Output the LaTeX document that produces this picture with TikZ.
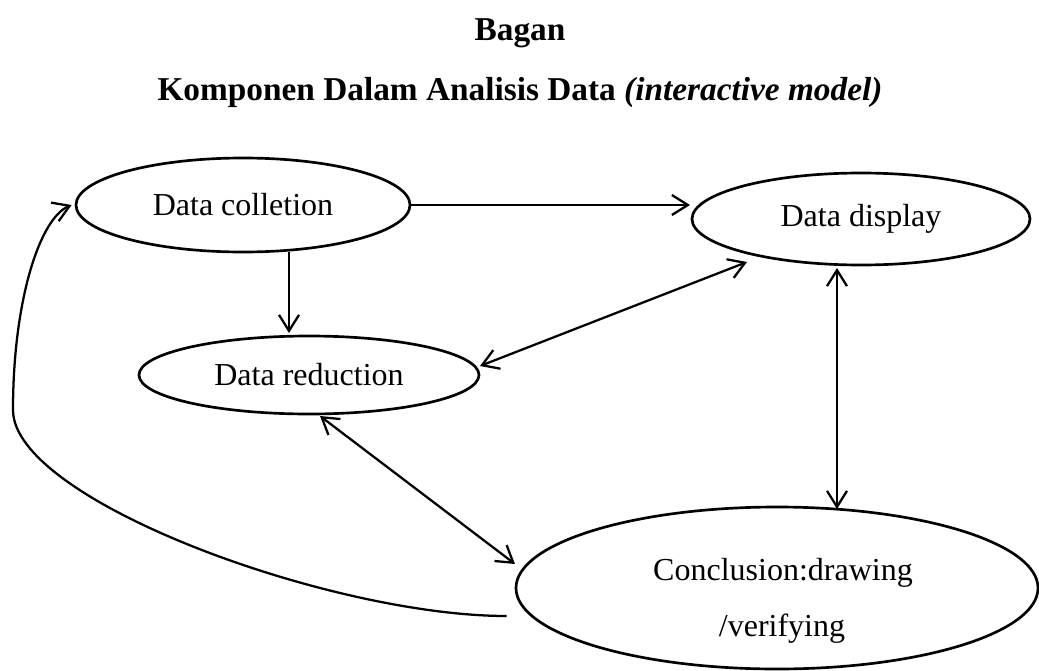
\documentclass[tikz,border=0pt]{standalone}
\usepackage{fontspec}
\setmainfont{Liberation Serif}
\usetikzlibrary{shapes.geometric,arrows.meta,calc}
\begin{document}
\begin{tikzpicture}[x=0.75pt,y=-0.75pt,
  oval/.style={ellipse, draw, line width=2pt, inner sep=0pt, font=\fontsize{24}{28}\selectfont},
  lbl/.style={font=\fontsize{24}{28}\selectfont, anchor=base, inner sep=0pt},
  barb/.tip={Straight Barb[length=12pt,width=15pt]},
  conn/.style={line width=1.7pt, -barb},
  biconn/.style={line width=1.7pt, barb-barb},
  ttl/.style={font=\fontsize{25}{28}\selectfont\bfseries, anchor=base, inner sep=0pt}]
\useasboundingbox (0,0) rectangle (1039,671);
\node[ttl] (t1) at (520,40) {Bagan};
\node[ttl] (t2) at (520,100) {Komponen Dalam Analisis Data \textit{(interactive model)}};

\node[oval, minimum width=334*0.75pt, minimum height=94*0.75pt] (col) at (243,205) {Data colletion};
\node[oval, minimum width=338*0.75pt, minimum height=92*0.75pt] (disp) at (861,219) {Data display};
\node[oval, minimum width=340*0.75pt, minimum height=78*0.75pt] (red) at (309,375) {Data reduction};
\node[oval, minimum width=522*0.75pt, minimum height=162*0.75pt] (conc) at (777,588) {};
\node[lbl] (c1) at (783,580) {Conclusion:drawing};
\node[lbl] (c2) at (782,636) {/verifying};

\draw[conn] (col.east) -- ($(disp)+(-171,-14)$);
\draw[conn] ($(col)+(46,47)$) -- ($(red)+(-20,-42)$);
\draw[biconn] ($(red)+(171,-9)$) -- ($(disp)+(-114,43)$);
\draw[biconn] ($(disp)+(-24,49)$) -- ($(conc)+(60,-79)$);
\draw[biconn] ($(red)+(11,41)$) -- ($(conc)+(-262,-24)$);
\draw[conn] ($(conc.west)+(-8,28)$) .. controls (330,616) and (13,500) .. (13,410)
  .. controls (13,300) and (40,218) .. ($(col.west)+(-3,0)$);
\end{tikzpicture}
\end{document}
